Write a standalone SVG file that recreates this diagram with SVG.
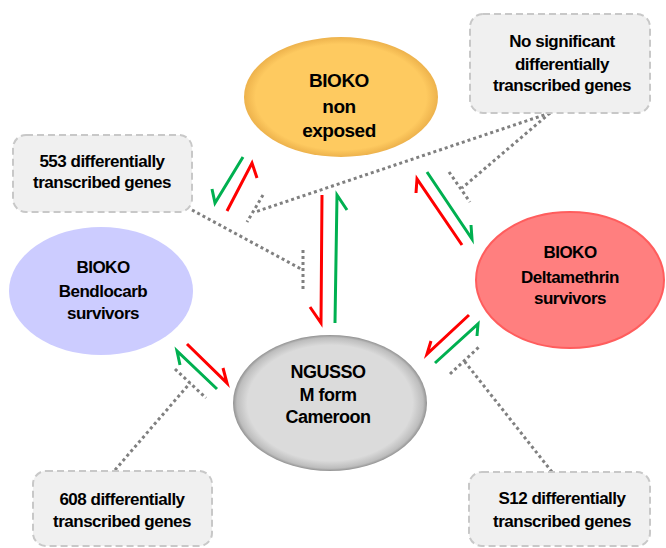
<svg xmlns="http://www.w3.org/2000/svg" width="666" height="548" viewBox="0 0 666 548">
<defs>
<radialGradient id="gY" cx="0.5" cy="0.5" r="0.5">
<stop offset="0.88" stop-color="#FECA60"/>
<stop offset="1" stop-color="#EDB24C"/>
</radialGradient>
<radialGradient id="gG" cx="0.5" cy="0.5" r="0.5">
<stop offset="0.85" stop-color="#DBDBDB"/>
<stop offset="0.96" stop-color="#BDBDBD"/>
<stop offset="1" stop-color="#929292"/>
</radialGradient>
<style>
.t{font-family:"Liberation Sans",Arial,sans-serif;font-weight:bold;text-anchor:middle;fill:#000;letter-spacing:-0.5px}
.box{fill:#F0F0F0;stroke:#C8C8C8;stroke-width:2;stroke-dasharray:7 4}
.r{stroke:#FF0000;stroke-width:3;fill:none;stroke-linejoin:miter}
.g{stroke:#00B050;stroke-width:3;fill:none;stroke-linejoin:miter}
.d{stroke:#808080;stroke-width:3;fill:none;stroke-dasharray:3 3}
</style>
</defs>
<rect width="666" height="548" fill="#fff"/>

<g id="connectors">
<path class="d" d="M192,210 L303,270 M303,250 L303,292"/>
<path class="d" d="M550,113 L255,212 M263,195 L247,222"/>
<path class="d" d="M550,113 L462,188 M449,172 L470,202"/>
<path class="d" d="M115,470 L190,383 M175,369 L206,398"/>
<path class="d" d="M552,472 L465,362 M450,374 L479,347"/>

<path class="g" d="M243,157 L215,203 L212,189"/>
<path class="r" d="M227,211 L252,163 L257,178"/>
<path class="r" d="M322,195 L321,323 L310,307"/>
<path class="g" d="M335,323 L337,195 L347,210"/>
<path class="r" d="M462,245 L417,179 L416,193"/>
<path class="g" d="M427,172 L472,239 L471,225"/>
<path class="r" d="M187,344 L227,383 L223,368"/>
<path class="g" d="M217,389 L177,351 L180,365"/>
<path class="r" d="M469,315 L427,354 L431,341"/>
<path class="g" d="M435,363 L478,324 L477,336"/>
</g>

<g id="bioko-non-exposed">
<ellipse cx="341" cy="97" rx="97" ry="60" fill="url(#gY)"/>
<text class="t" font-size="19" x="339" y="87">BIOKO</text>
<text class="t" font-size="19" x="339" y="113">non</text>
<text class="t" font-size="19" x="339" y="137">exposed</text>
</g>

<g id="bioko-bendiocarb">
<ellipse cx="101" cy="291" rx="92" ry="64" fill="#CCCCFF"/>
<text class="t" font-size="17" x="103" y="273">BIOKO</text>
<text class="t" font-size="17" x="103" y="297">Bendlocarb</text>
<text class="t" font-size="17" x="103" y="319">survivors</text>
</g>

<g id="bioko-deltamethrin">
<ellipse cx="570" cy="280" rx="94" ry="68" fill="#FF7F7F" stroke="#FF5D5D" stroke-width="2"/>
<text class="t" font-size="17" x="570" y="258">BIOKO</text>
<text class="t" font-size="17" x="570" y="283">Deltamethrin</text>
<text class="t" font-size="17" x="570" y="304">survivors</text>
</g>

<g id="ngusso">
<ellipse cx="330" cy="403" rx="97" ry="68" fill="url(#gG)"/>
<text class="t" font-size="18" x="328" y="378">NGUSSO</text>
<text class="t" font-size="18" x="328" y="401">M form</text>
<text class="t" font-size="18" x="328" y="423">Cameroon</text>
</g>

<g id="box-no-significant">
<rect class="box" x="470" y="14" width="180" height="99" rx="13"/>
<text class="t" font-size="17" x="562" y="47">No significant</text>
<text class="t" font-size="17" x="562" y="70">differentially</text>
<text class="t" font-size="17" x="562" y="91">transcribed genes</text>
</g>

<g id="box-553">
<rect class="box" x="13" y="135" width="179" height="77" rx="13"/>
<text class="t" font-size="17" x="102" y="167">553 differentially</text>
<text class="t" font-size="17" x="102" y="188">transcribed genes</text>
</g>

<g id="box-608">
<rect class="box" x="33" y="471" width="179" height="75" rx="13"/>
<text class="t" font-size="17" x="122" y="505">608 differentially</text>
<text class="t" font-size="17" x="122" y="527">transcribed genes</text>
</g>

<g id="box-s12">
<rect class="box" x="469" y="472" width="181" height="74" rx="13"/>
<text class="t" font-size="17" x="562" y="504">S12 differentially</text>
<text class="t" font-size="17" x="562" y="527">transcribed genes</text>
</g>
</svg>
